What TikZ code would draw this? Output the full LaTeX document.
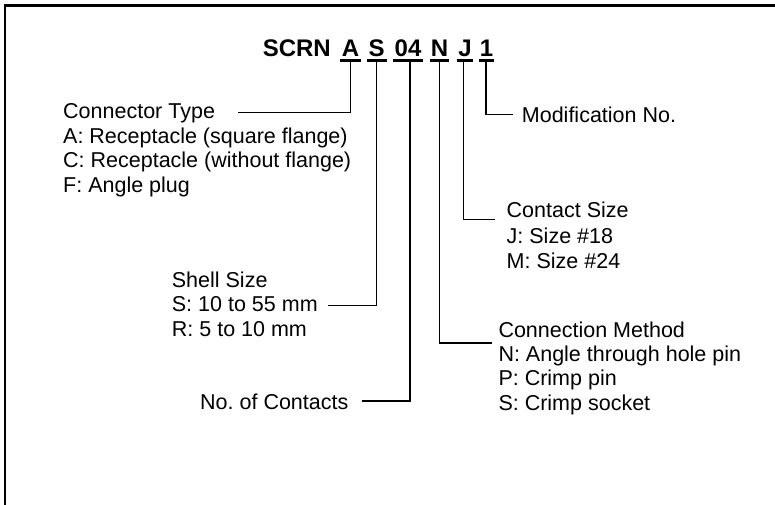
\documentclass[tikz,border=0pt]{standalone}
\usepackage{fontspec}
\setmainfont{Liberation Sans}
\frenchspacing
\begin{document}
\begin{tikzpicture}[x=1pt,y=-1pt,
  lbl/.style={anchor=base west, inner sep=0pt, font=\fontsize{21.5}{24}\selectfont},
  code/.style={anchor=base, inner sep=0pt, font=\fontsize{24}{28}\selectfont\bfseries},
  lead/.style={line width=1.5pt, line join=miter},
  uline/.style={line width=2.2pt}]
\useasboundingbox (0,0) rectangle (775,504);
\clip (0,0) rectangle (775,504);
\draw[line width=2.5pt] (5,5.5) rectangle (790,520);

% title
\node[code, anchor=base east] (scrn) at (331,56) {SCRN};
\node[code] (cA) at (350.5,56) {A};
\node[code] (cS) at (376.7,56) {S};
\node[code] (c04) at (408,56) {04};
\node[code] (cN) at (439.5,56) {N};
\node[code] (cJ) at (465,56) {J};
\node[code] (c1) at (486.5,56) {1};

% underlines
\draw[uline] (340,60.5) -- (360.7,60.5);
\draw[uline] (366.7,60.5) -- (386.7,60.5);
\draw[uline] (392.7,60.5) -- (422.7,60.5);
\draw[uline] (430,60.5) -- (449,60.5);
\draw[uline] (456.7,60.5) -- (473.3,60.5);
\draw[uline] (479.3,60.5) -- (494,60.5);

\coordinate (uA) at (350.7,60.5);
\coordinate (uS) at (376.7,60.5);
\coordinate (u04) at (410,60.5);
\coordinate (uN) at (439.5,60.5);
\coordinate (uJ) at (463.7,60.5);
\coordinate (u1) at (486,60.5);

% labels
\node[lbl] (ct1) at (63,118.5) {Connector Type};
\node[lbl] (ct2) at (63,143) {A: Receptacle (square flange)};
\node[lbl] (ct3) at (63,167.5) {C: Receptacle (without flange)};
\node[lbl] (ct4) at (63,192) {F: Angle plug};

\node[lbl] (ss1) at (171.7,287) {Shell Size};
\node[lbl] (ss2) at (171.7,311.5) {S: 10 to 55 mm};
\node[lbl] (ss3) at (171.7,336) {R: 5 to 10 mm};

\node[lbl] (nc) at (200,409) {No. of Contacts};

\node[lbl] (cm1) at (498.3,337) {Connection Method};
\node[lbl] (cm2) at (498.3,361.3) {N: Angle through hole pin};
\node[lbl] (cm3) at (498.3,385.6) {P: Crimp pin};
\node[lbl] (cm4) at (498.3,410) {S: Crimp socket};

\node[lbl] (cs1) at (506.5,217.5) {Contact Size};
\node[lbl] (cs2) at (506.5,243.5) {J: Size \#18};
\node[lbl] (cs3) at (506.5,268.5) {M: Size \#24};

\node[lbl] (mn) at (521.7,122.3) {Modification No.};

% leader ends
\coordinate (eA) at (238,112.7);
\coordinate (eS) at (328,305.7);
\coordinate (e04) at (361.7,401);
\coordinate (eN) at (491.7,343);
\coordinate (eJ) at (495,219.5);
\coordinate (e1) at (512.7,114.3);

\draw[lead] (uA) |- (eA);
\draw[lead] (uS) |- (eS);
\draw[lead] (u04) |- (e04);
\draw[lead] (uN) |- (eN);
\draw[lead] (uJ) |- (eJ);
\draw[lead] (u1) |- (e1);
\end{tikzpicture}
\end{document}
